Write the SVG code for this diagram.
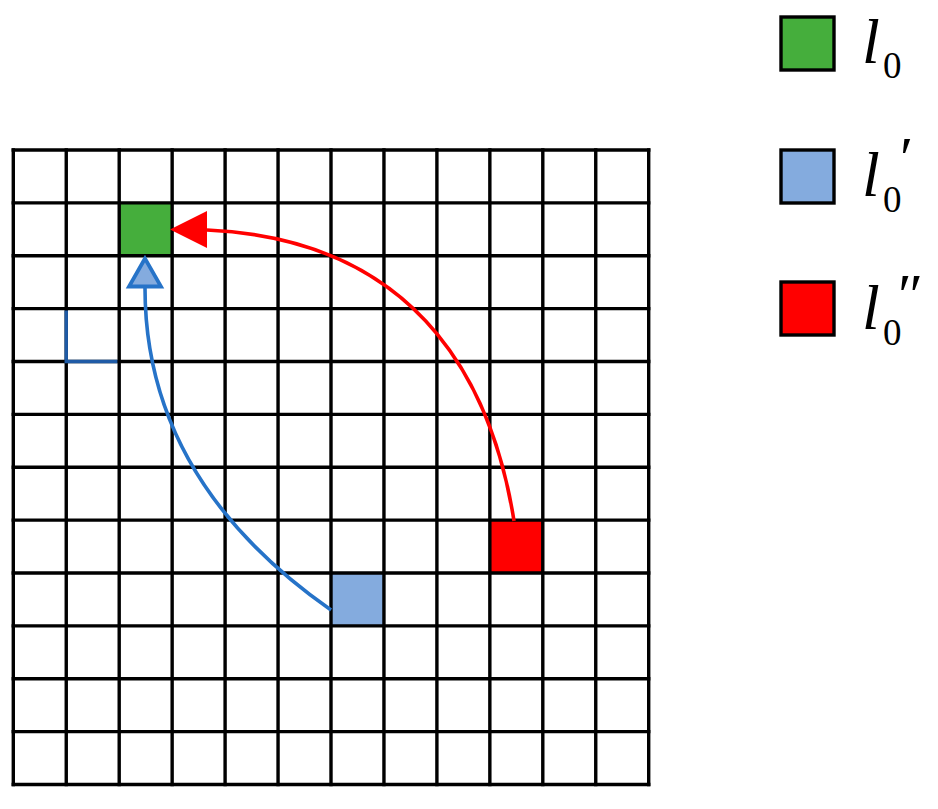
<svg xmlns="http://www.w3.org/2000/svg" width="938" height="809" viewBox="0 0 938 809">
<style>
.grid{fill:none;stroke:#000;stroke-width:3.4;stroke-linecap:square}
.sw{stroke:#000;stroke-width:3.4}
.lbl{fill:#000}
.it{font-style:italic}
.green{fill:#45AE3C}
.blue{fill:#84ABDE}
.red{fill:#FF0000}
</style>
<rect width="938" height="809" fill="#fff"/>
<g id="cells">
<rect id="cell-green" class="green" x="119.2" y="202.9" width="52.95" height="52.85"/>
<rect id="cell-blue" class="blue" x="331" y="573" width="52.95" height="52.9"/>
<rect id="cell-red" class="red" x="489.85" y="520.1" width="52.95" height="52.9"/>
</g>
<g id="grid">
<path class="grid" d="M13.3,150V784.5M66.25,150V784.5M119.2,150V784.5M172.15,150V784.5M225.1,150V784.5M278.05,150V784.5M331,150V784.5M383.95,150V784.5M436.9,150V784.5M489.85,150V784.5M542.8,150V784.5M595.75,150V784.5M648.7,150V784.5"/>
<path class="grid" d="M13.3,150H648.7M13.3,202.9H648.7M13.3,255.75H648.7M13.3,308.6H648.7M13.3,361.5H648.7M13.3,414.4H648.7M13.3,467.25H648.7M13.3,520.1H648.7M13.3,573H648.7M13.3,625.9H648.7M13.3,678.75H648.7M13.3,731.6H648.7M13.3,784.5H648.7"/>
<path id="corner" d="M66.25,310.4V361.5H117.4" fill="none" stroke="#1F5BA6" stroke-width="3.4"/>
</g>
<g id="connectors">
<path id="arc-red" d="M514,521 C495,400 430,240 207,230" fill="none" stroke="#FF0000" stroke-width="3.6"/>
<polygon points="170,229.5 207,211 207,248" fill="#FF0000"/>
<path id="arc-blue" d="M331,610 Q145,480 145,288" fill="none" stroke="#2673C8" stroke-width="3.6"/>
<polygon points="145,258.5 129,286.5 161,286.5" fill="#84ABDE" stroke="#2673C8" stroke-width="3.8" stroke-linejoin="miter"/>
</g>
<g id="legend-green">
<rect class="green sw" x="781" y="17" width="53" height="53"/>
<text class="lbl" x="862" y="63" font-size="64" font-family="Liberation Serif, DejaVu Serif, Noto Serif, serif"><tspan class="it">l</tspan><tspan x="883" y="78" font-size="37">0</tspan></text>
</g>
<g id="legend-blue">
<rect class="blue sw" x="781" y="150" width="53" height="53"/>
<text class="lbl" x="862" y="196" font-size="64" font-family="Liberation Serif, DejaVu Serif, Noto Serif, serif"><tspan class="it">l</tspan><tspan x="883" y="212" font-size="37">0</tspan><tspan x="900" y="178" font-size="60">′</tspan></text>
</g>
<g id="legend-red">
<rect class="red sw" x="781" y="282" width="53" height="53"/>
<text class="lbl" x="862" y="329" font-size="64" font-family="Liberation Serif, DejaVu Serif, Noto Serif, serif"><tspan class="it">l</tspan><tspan x="883" y="345" font-size="37">0</tspan><tspan x="898" y="315" font-size="60">″</tspan></text>
</g>
</svg>
